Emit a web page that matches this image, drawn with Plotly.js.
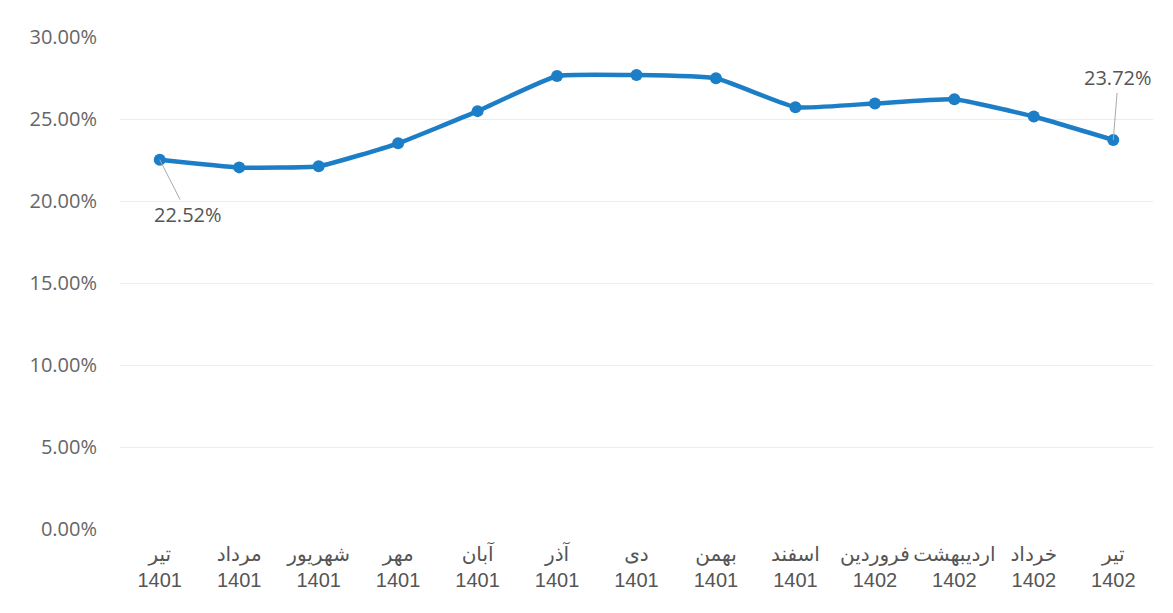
<!DOCTYPE html>
<html><head><meta charset="utf-8">
<script src="https://cdn.plot.ly/plotly-3.0.1.min.js"></script>
<style>html,body{margin:0;padding:0;background:#fff}#c{width:1173px;height:613px}</style>
</head><body><div id="c"></div>
<script>
const months = ["تیر","مرداد","شهریور","مهر","آبان","آذر","دی","بهمن","اسفند","فروردین","اردیبهشت","خرداد","تیر"];
const years = ["1401","1401","1401","1401","1401","1401","1401","1401","1401","1402","1402","1402","1402"];
const values = [22.52,22.05,22.12,23.52,25.48,27.62,27.68,27.48,25.72,25.95,26.2,25.15,23.72];
const yTicks = [0,5,10,15,20,25,30];

const xs = months.map((m,i)=>i);
const tickText = months.map((m,i)=>m+"<br>"+years[i]);
const last = values.length-1;

Plotly.newPlot("c",[{
  x: xs, y: values, type:"scatter", mode:"lines+markers",
  line:{color:"#1c7ec6", width:4.5, shape:"spline", smoothing:0.4},
  marker:{color:"#1c7ec6", size:12},
  hoverinfo:"skip"
}],{
  width:1173, height:613,
  margin:{l:120,r:20,t:37,b:84},
  paper_bgcolor:"#fff", plot_bgcolor:"#fff",
  showlegend:false,
  xaxis:{range:[-0.5,12.5], tickvals:xs, ticktext:tickText, tickangle:0, showgrid:false, zeroline:false,
    showline:false, ticks:"", ticklabelstandoff:11,
    tickfont:{family:"Liberation Sans, DejaVu Sans, sans-serif", size:20, color:"#555"}},
  yaxis:{range:[0,30], tickvals:yTicks, ticktext:yTicks.map(v=>v.toFixed(2)+"%"), showgrid:true,
    gridcolor:"#ececec", gridwidth:1, zeroline:false, showline:false, ticks:"", ticklabelstandoff:22,
    tickfont:{family:"Open Sans, sans-serif", size:20, color:"#666"}},
  annotations:[
    {x:0, y:values[0], xref:"x", yref:"y", text:values[0].toFixed(2)+"%", showarrow:true,
     arrowhead:0, arrowwidth:1, arrowcolor:"#aaa", ax:28, ay:55, standoff:0, startstandoff:0,
     font:{family:"Open Sans, sans-serif", size:20, color:"#555"}},
    {x:last, y:values[last], xref:"x", yref:"y", text:values[last].toFixed(2)+"%", showarrow:true,
     arrowhead:0, arrowwidth:1, arrowcolor:"#aaa", ax:5, ay:-62, standoff:0,
     font:{family:"Open Sans, sans-serif", size:20, color:"#555"}}
  ]
},{displayModeBar:false, staticPlot:true});
</script></body></html>
